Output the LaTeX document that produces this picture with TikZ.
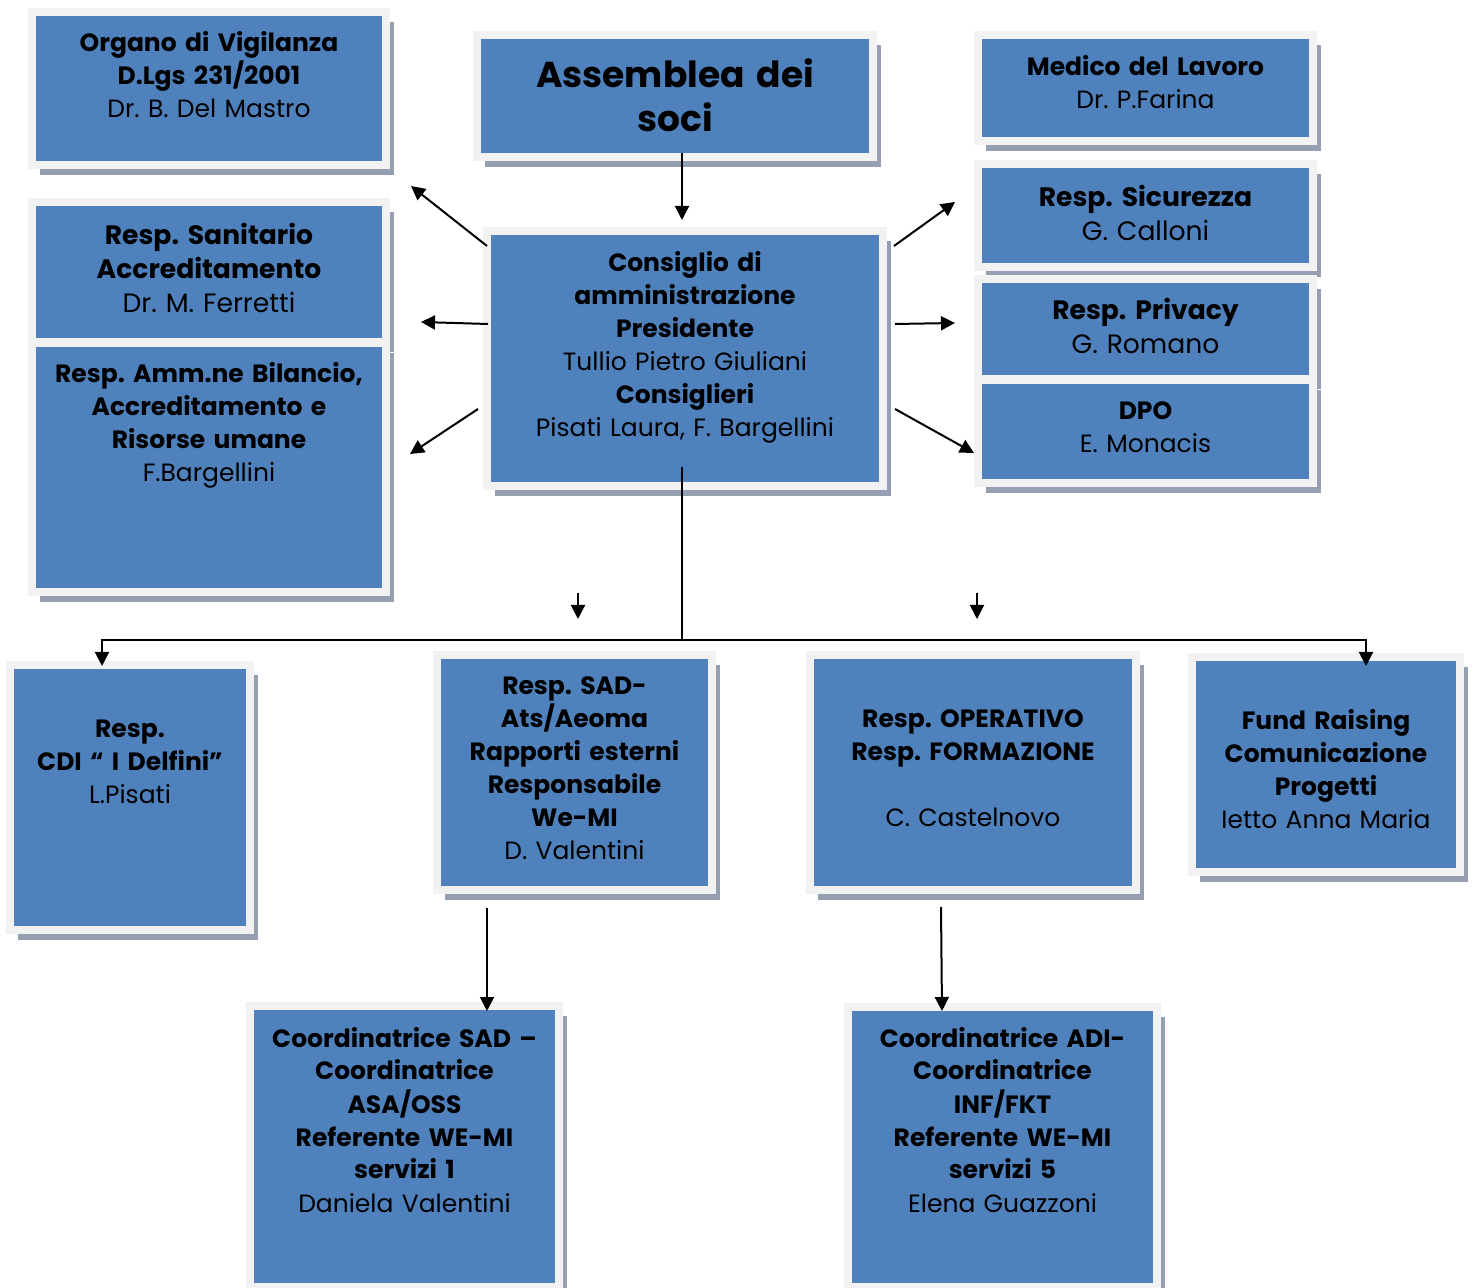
\documentclass[tikz,border=0pt]{standalone}
\usepackage{fontspec}
\setmainfont{Poppins}
\frenchspacing
\usetikzlibrary{arrows.meta,shadows}
\definecolor{boxblue}{RGB}{79,129,189}
\definecolor{boxframe}{RGB}{242,242,242}
\definecolor{boxshade}{RGB}{148,160,178}
\tikzset{
	orgbox/.style 2 args={draw=boxframe, line width=4pt, fill=boxblue, inner sep=0pt, minimum width=#1, minimum height=#2, drop shadow={shadow xshift=4pt, shadow yshift=-5pt, fill=boxshade, opacity=1}},
	boxtext/.style={anchor=base, align=center, inner sep=0pt, text width=#1, font=\fontsize{12.5pt}{16.5pt}\selectfont},
	bigtext/.style={boxtext=#1, font=\fontsize{13.3pt}{17pt}\selectfont},
	hugetext/.style={boxtext=#1, font=\fontsize{18pt}{22pt}\selectfont\bfseries},
	conn/.style={line width=1pt, color=black},
	arr/.style={conn, -{Triangle[length=7pt, width=7pt]}}
}

\begin{document}
\begin{tikzpicture}[x=0.5pt, y=-0.5pt]
		%%%%% START %%%%%
		\useasboundingbox (0,0) rectangle (1474,1288);
		
		\node[orgbox={177pt}{76.5pt}] (odv) at (209,88.5) {};
		\node[orgbox={198pt}{61pt}] (ass) at (675,96) {};
		\node[orgbox={167.5pt}{53pt}] (med) at (1145.5,88) {};
		
		\node[orgbox={177pt}{70pt}] (rsa) at (209,272) {};
		\node[orgbox={177pt}{124.5pt}] (ram) at (209,467.5) {};
		\node[orgbox={198pt}{127.5pt}] (cda) at (685,358.5) {};
		\node[orgbox={167.5pt}{51.5pt}] (rsi) at (1145.5,215.5) {};
		\node[orgbox={167.5pt}{50pt}] (rpr) at (1145.5,329) {};
		\node[orgbox={167.5pt}{51.5pt}] (dpo) at (1145.5,431.5) {};
		
		\node[orgbox={120pt}{132.5pt}] (cdi) at (130,797.5) {};
		\node[orgbox={137.5pt}{117.5pt}] (sad) at (574.5,772.5) {};
		\node[orgbox={163pt}{117.5pt}] (oper) at (973,772.5) {};
		\node[orgbox={134pt}{107.5pt}] (fund) at (1326,764.5) {};
		
		\node[orgbox={154.5pt}{140.5pt}] (csad) at (404.5,1146.5) {};
		\node[orgbox={154.5pt}{140pt}] (cadi) at (1002.5,1147) {};
		
		% texts
		\node[boxtext=173pt] (odvt) at ([shift={(0,44)}]odv.north) {\textbf{Organo di Vigilanza}\\\textbf{D.Lgs 231/2001}\\Dr. B. Del Mastro};
		\node[hugetext=194pt] (asst) at ([shift={(0,57)}]ass.north) {Assemblea dei\\soci};
		\node[boxtext=163.5pt] (medt) at ([shift={(0,45)}]med.north) {\textbf{Medico del Lavoro}\\Dr. P.Farina};
		\node[bigtext=173pt] (rsat) at ([shift={(0,47)}]rsa.north) {\textbf{Resp. Sanitario}\\\textbf{Accreditamento}\\Dr. M. Ferretti};
		\node[boxtext=173pt] (ramt) at ([shift={(0,44)}]ram.north) {\textbf{Resp. Amm.ne Bilancio,}\\\textbf{Accreditamento e}\\\textbf{Risorse umane}\\F.Bargellini};
		\node[boxtext=194pt] (cdat) at ([shift={(0,45)}]cda.north) {\textbf{Consiglio di}\\\textbf{amministrazione}\\\textbf{Presidente}\\Tullio Pietro Giuliani\\\textbf{Consiglieri}\\Pisati Laura, F. Bargellini};
		\node[bigtext=163.5pt] (rsit) at ([shift={(0,47)}]rsi.north) {\textbf{Resp. Sicurezza}\\G. Calloni};
		\node[bigtext=163.5pt] (rprt) at ([shift={(0,45)}]rpr.north) {\textbf{Resp. Privacy}\\G. Romano};
		\node[boxtext=163.5pt] (dpot) at ([shift={(0,44)}]dpo.north) {\textbf{DPO}\\E. Monacis};
		
		\node[boxtext=116pt] (cdit) at ([shift={(0,77)}]cdi.north) {\textbf{Resp.}\\\textbf{CDI “ I Delfini”}\\L.Pisati};
		\node[boxtext=133.5pt] (sadt) at ([shift={(0,44)}]sad.north) {\textbf{Resp. SAD-}\\\textbf{Ats/Aeoma}\\\textbf{Rapporti esterni}\\\textbf{Responsabile}\\\textbf{We-MI}\\D. Valentini};
		\node[boxtext=159pt] (opert) at ([shift={(0,77)}]oper.north) {\textbf{Resp. OPERATIVO}\\\textbf{Resp. FORMAZIONE}\hspace*{14pt}\\[16.5pt]C. Castelnovo};
		\node[boxtext=130pt] (fundt) at ([shift={(0,77)}]fund.north) {\textbf{Fund Raising}\\\textbf{Comunicazione}\\\textbf{Progetti}\\Ietto Anna Maria};
		
		\node[boxtext=150.5pt] (csadt) at ([shift={(0,45)}]csad.north) {\textbf{Coordinatrice SAD –}\\\textbf{Coordinatrice}\\\textbf{ASA/OSS}\\\textbf{Referente WE-MI}\\\textbf{servizi 1}\\Daniela Valentini};
		\node[boxtext=150.5pt] (cadit) at ([shift={(0,44)}]cadi.north) {\textbf{Coordinatrice ADI-}\\\textbf{Coordinatrice}\\\textbf{INF/FKT}\\\textbf{Referente WE-MI}\\\textbf{servizi 5}\\Elena Guazzoni};
		
		% arrows
		\draw[arr] ([shift={(7,-8)}]ass.south) -- ([shift={(-3,-7)}]cda.north);
		\draw[arr] ([shift={(4,19)}]cda.north west) -- ([shift={(21,17)}]odv.south east);
		\draw[arr] ([shift={(5,-34.5)}]cda.west) -- ([shift={(31,50)}]rsa.east);
		\draw[arr] ([shift={(-5,-81)}]cda.south west) -- ([shift={(20,-13.5)}]ram.east);
		\draw[arr] ([shift={(7,19)}]cda.north east) -- ([shift={(-19,-13.5)}]rsi.west);
		\draw[arr] ([shift={(8,-34.5)}]cda.east) -- ([shift={(-19,-6)}]rpr.west);
		\draw[arr] ([shift={(8,-81)}]cda.south east) -- ([shift={(0,21.5)}]dpo.west);
		
		\coordinate (hub) at (682,640);
		\draw[conn] ([shift={(-3,-23)}]cda.south) -- (hub);
		\draw[arr] (hub) -| ([shift={(-28,5)}]cdi.north);
		\draw[arr] (hub) -| ([shift={(40,13)}]fund.north);
		
		\coordinate (sadtop) at (578,593);
		\coordinate (sadtip) at (578,619);
		\coordinate (opertop) at (977,593);
		\coordinate (opertip) at (977,619);
		\draw[arr] (sadtop) -- (sadtip);
		\draw[arr] (opertop) -- (opertip);
		
		\draw[arr] ([shift={(-87.5,14)}]sad.south) -- ([shift={(82.5,9)}]csad.north);
		\draw[arr] ([shift={(-32,13)}]oper.south) -- ([shift={(-60.5,8)}]cadi.north);
		
		%%%%% END %%%%%
\end{tikzpicture}
\end{document}
